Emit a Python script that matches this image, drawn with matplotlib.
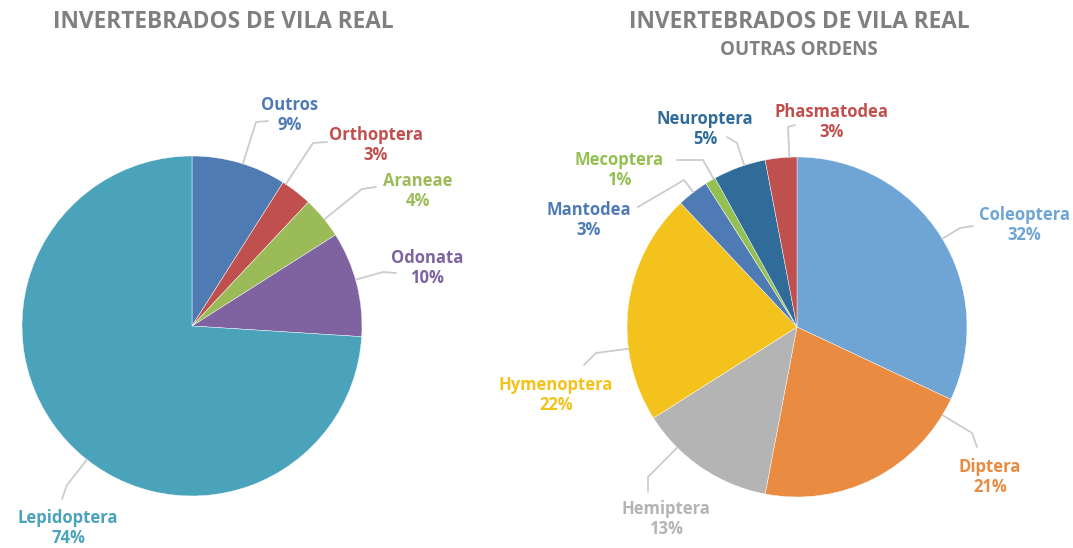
import numpy as np
import matplotlib.pyplot as plt

W, H = 1073, 548

# dados - gráfico da esquerda
left_names = ['Outros', 'Orthoptera', 'Araneae', 'Odonata', 'Lepidoptera']
left_values = [9, 3, 4, 10, 74]
left_colors = ['#4f7bb3', '#c0504d', '#9bbb59', '#7f63a0', '#4ba3bb']

# dados - gráfico da direita (outras ordens)
right_names = ['Coleoptera', 'Diptera', 'Hemiptera', 'Hymenoptera',
               'Mantodea', 'Mecoptera', 'Neuroptera', 'Phasmatodea']
right_values = [32, 21, 13, 22, 3, 1, 5, 3]
right_colors = ['#6fa5d4', '#e98b40', '#b4b4b4', '#f4c21c',
                '#4f7bb4', '#94bf52', '#2f6c9a', '#c0504d']

title = 'INVERTEBRADOS DE VILA REAL'
subtitle = 'OUTRAS ORDENS'

# posições dos rótulos em pixels: (centro do texto, cotovelo, fim da linha)
left_layout = [((290, 115), (256, 122), (268, 121)),
               ((376, 145), (313, 143), (327, 142)),
               ((418, 191), (362, 189), (376, 187)),
               ((427, 268), (383, 272), (396, 273)),
               ((68, 528), (67, 485), (62, 499))]
right_layout = [((1024, 225), (960, 228), (973, 226)),
                ((990, 477), (972, 433), (977, 447)),
                ((666, 519), (648, 477), (648, 492)),
                ((556, 395), (596, 353), (584, 365)),
                ((589, 220), (684, 180), (638, 207)),
                ((619, 170), (703, 160), (677, 160)),
                ((705, 129), (737, 143), (727, 137)),
                ((832, 122), (788, 127), (795, 125))]

R = 170
FONT = 'Open Sans'


def px(p):
    return np.array([p[0], H - p[1]], dtype=float)


def draw_pie(ax, names, values, colors, center, layout):
    c = px(center)
    ax.pie(values, colors=colors, startangle=90, counterclock=False,
           center=tuple(c), radius=R, frame=True,
           wedgeprops=dict(edgecolor='white', linewidth=0.3))
    for name, v, col, (tpos, elbow, end) in zip(names, values, colors, layout):
        e = px(elbow)
        d = e - c
        start = c + R * d / np.hypot(*d)
        pts = np.array([start, e, px(end)])
        ax.plot(pts[:, 0], pts[:, 1], color='#cccccc', lw=1.3,
                solid_capstyle='round', zorder=1)
        t = px(tpos)
        ax.text(t[0], t[1], f'{name}\n{v}%', color=col, ha='center',
                va='center', multialignment='center', fontsize=12,
                fontweight='bold', family=FONT, linespacing=1.2)


fig = plt.figure(figsize=(W / 100, H / 100), dpi=100)
ax = fig.add_axes([0, 0, 1, 1])

draw_pie(ax, left_names, left_values, left_colors, (192, 326), left_layout)
draw_pie(ax, right_names, right_values, right_colors, (797, 327), right_layout)

ax.text(*px((223, 22)), title, ha='center', va='center', fontsize=16.3,
        fontweight='bold', color='#808080', family=FONT)
ax.text(*px((799, 22)), title, ha='center', va='center', fontsize=16.3,
        fontweight='bold', color='#808080', family=FONT)
ax.text(*px((799, 50)), subtitle, ha='center', va='center', fontsize=13.5,
        fontweight='bold', color='#808080', family=FONT)

ax.set_xlim(0, W)
ax.set_ylim(0, H)
ax.set_aspect('equal')
ax.axis('off')

fig.savefig('out.png', dpi=100, facecolor='white')
